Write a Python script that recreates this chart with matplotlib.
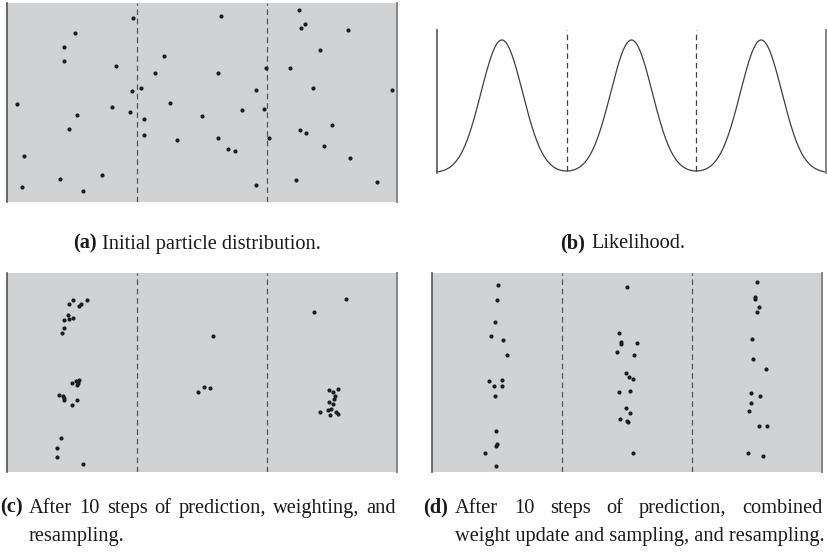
import matplotlib
matplotlib.use("Agg")
import matplotlib.pyplot as plt
import numpy as np

# panel (a): initial particles, x in [0, 3] (three cells), y in [0, 1]
init_x = [0.972, 1.646, 2.249, 2.292, 2.259, 2.626, 0.523, 0.441, 2.405, 1.208,
          0.441, 0.838, 1.995, 2.179, 1.141, 1.621, 1.028, 0.959, 1.915, 2.351,
          2.959, 0.077, 0.810, 1.251, 0.944, 1.810, 1.979, 0.536, 1.503, 1.054,
          2.503, 0.474, 2.254, 2.297, 1.054, 1.308, 1.626, 2.013, 1.703, 1.754,
          2.441, 0.133, 2.641, 0.733, 0.408, 2.226, 2.849, 0.118, 1.915, 0.587]
init_y = [0.921, 0.935, 0.965, 0.893, 0.873, 0.861, 0.846, 0.776, 0.765, 0.735,
          0.705, 0.682, 0.672, 0.670, 0.645, 0.647, 0.570, 0.556, 0.563, 0.571,
          0.564, 0.491, 0.479, 0.499, 0.454, 0.462, 0.467, 0.436, 0.432, 0.415,
          0.385, 0.365, 0.360, 0.347, 0.337, 0.312, 0.322, 0.323, 0.268, 0.256,
          0.281, 0.231, 0.223, 0.136, 0.117, 0.112, 0.102, 0.077, 0.084, 0.054]

# panel (b): likelihood, one bump per cell
peak_centers = [0.5, 1.5, 2.5]
peak_width = 0.16

# panel (c): after predict / weight / resample
resamp_x = [0.505, 0.479, 0.618, 0.572, 0.556, 0.472, 0.508, 0.477, 0.441, 0.441,
            0.426, 0.500, 0.533, 0.554, 0.541, 0.546, 0.400, 0.433, 0.441, 0.438,
            0.536, 0.503, 0.418, 0.385, 0.382, 0.587,
            1.585, 1.518, 1.559, 1.472,
            2.608, 2.362, 2.477, 2.549, 2.510, 2.526, 2.518, 2.477, 2.510, 2.472,
            2.490, 2.410, 2.487, 2.531, 2.546]
resamp_y = [0.866, 0.846, 0.866, 0.848, 0.838, 0.792, 0.777, 0.772, 0.765, 0.727,
            0.700, 0.451, 0.461, 0.464, 0.439, 0.447, 0.387, 0.384, 0.365, 0.375,
            0.363, 0.337, 0.174, 0.124, 0.075, 0.042,
            0.685, 0.430, 0.425, 0.404,
            0.873, 0.804, 0.412, 0.417, 0.405, 0.385, 0.370, 0.353, 0.345, 0.312,
            0.317, 0.302, 0.288, 0.303, 0.295]

# panel (d): combined weight update and sampling
combined_x = [0.508, 0.500, 0.485, 0.451, 0.546, 0.574, 0.433, 0.536, 0.477, 0.536,
              0.482, 0.492, 0.500, 0.487, 0.403, 0.492,
              1.495, 1.433, 1.451, 1.451, 1.577, 1.421, 1.551, 1.492, 1.513, 1.541,
              1.433, 1.523, 1.492, 1.521, 1.446, 1.500, 1.503, 1.546,
              2.497, 2.485, 2.485, 2.515, 2.495, 2.462, 2.469, 2.564, 2.454, 2.518,
              2.454, 2.436, 2.513, 2.574, 2.428, 2.546]
combined_y = [0.941, 0.864, 0.755, 0.687, 0.665, 0.588, 0.461, 0.462, 0.432, 0.436,
              0.385, 0.206, 0.144, 0.131, 0.099, 0.032,
              0.933, 0.700, 0.657, 0.647, 0.652, 0.603, 0.588, 0.501, 0.477, 0.469,
              0.402, 0.407, 0.325, 0.298, 0.268, 0.260, 0.255, 0.099,
              0.956, 0.883, 0.869, 0.831, 0.807, 0.670, 0.568, 0.521, 0.397, 0.384,
              0.347, 0.307, 0.233, 0.235, 0.095, 0.084]

cell_bounds = [1, 2]

W, H = 827, 555
BG = "#d1d2d4"
DOT = "#1c1c1c"
DASH = (0, (4.5, 3.0))
FONT = "Liberation Serif"
FS = 14.7

plt.rcParams["font.family"] = FONT

fig = plt.figure(figsize=(W / 100, H / 100), dpi=100)


def px_axes(x0, y0, x1, y1):
    # pixel box (top-left origin) -> axes
    return fig.add_axes([x0 / W, 1 - y1 / H, (x1 - x0) / W, (y1 - y0) / H])


def style_frame(ax):
    ax.set_xticks([])
    ax.set_yticks([])
    ax.spines["top"].set_visible(False)
    ax.spines["bottom"].set_visible(False)
    ax.spines["left"].set_color("#555555")
    ax.spines["right"].set_color("#858585")
    ax.spines["left"].set_linewidth(1.2)
    ax.spines["right"].set_linewidth(1.4)


def particle_panel(ax, xs, ys):
    ax.set_facecolor(BG)
    style_frame(ax)
    ax.set_xlim(0, 3)
    ax.set_ylim(0, 1)
    for b in cell_bounds:
        ax.axvline(b, color="#555555", linewidth=0.9, linestyle=DASH)
    ax.scatter(xs, ys, s=9, color=DOT, linewidths=0, zorder=3)


ax_a = px_axes(7, 2.7, 397, 202)
particle_panel(ax_a, init_x, init_y)

ax_c = px_axes(7, 273.3, 397, 472.3)
particle_panel(ax_c, resamp_x, resamp_y)

ax_d = px_axes(432.3, 273.3, 822.3, 472.3)
particle_panel(ax_d, combined_x, combined_y)

# likelihood panel
ax_b = px_axes(437, 30, 826, 173)
style_frame(ax_b)
ax_b.set_facecolor("none")
ax_b.set_xlim(0, 3)
ax_b.set_ylim(0, 1.075)
xs = np.linspace(0, 3, 600)
lik = np.zeros_like(xs)
for c in peak_centers:
    lik += np.exp(-0.5 * ((xs - c) / peak_width) ** 2)
ax_b.plot(xs, lik, color="#404040", linewidth=0.9)
for b in cell_bounds:
    lb = sum(np.exp(-0.5 * ((b - c) / peak_width) ** 2) for c in peak_centers)
    ax_b.vlines(b, lb, 1.075, color="#404040", linewidth=0.9, linestyles=DASH)


# captions
def put(x, y, s, bold=False, ha="left"):
    return fig.text(x / W, 1 - y / H, s, ha=ha, va="baseline", fontsize=FS,
                    fontfamily=FONT, fontweight="bold" if bold else "normal",
                    color="#1a1a1a")


renderer = fig.canvas.get_renderer()


def text_width(s, bold=False):
    t = fig.text(0, 0, s, fontsize=FS, fontfamily=FONT,
                 fontweight="bold" if bold else "normal")
    w = t.get_window_extent(renderer).width
    t.remove()
    return w


def justified(x0, x1, y, words):
    widths = [text_width(w) for w in words]
    gap = (x1 - x0 - sum(widths)) / (len(words) - 1)
    x = x0
    for w, wd in zip(words, widths):
        put(x, y, w)
        x += wd + gap


def caption_center(cx, y, label, body):
    lw = text_width(label, bold=True)
    sw = 6.0
    bw = text_width(body)
    x0 = cx - (lw + sw + bw) / 2
    put(x0, y, label, bold=True)
    put(x0 + lw + sw, y, body)


caption_center(197, 248.5, "(a)", "Initial particle distribution.")
caption_center(623, 248.5, "(b)", "Likelihood.")

put(0, 512.7, "(c)", bold=True)
justified(29, 396, 512.7, "After 10 steps of prediction, weighting, and".split())
put(29, 541, "resampling.")

put(423, 512.7, "(d)", bold=True)
justified(455, 822, 512.7, "After 10 steps of prediction, combined".split())
put(455, 541, "weight update and sampling, and resampling.")

fig.savefig("out.png", dpi=100)
